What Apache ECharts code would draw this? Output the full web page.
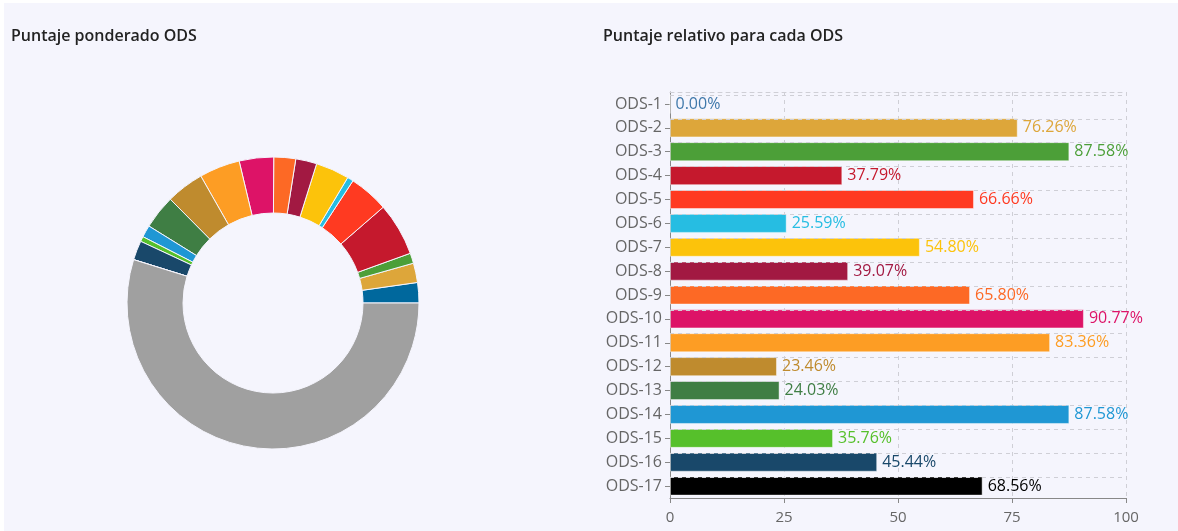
<!DOCTYPE html>
<html>
<head>
<meta charset="utf-8">
<script src="https://cdn.jsdelivr.net/npm/echarts@6/dist/echarts.min.js"></script>
<style>
  html, body { margin: 0; padding: 0; background: #ffffff; }
  #chart { position: absolute; left: 4px; top: 3px; width: 1174px; height: 528px; }
</style>
</head>
<body>
<div id="chart"></div>
<script>
// categories and colours
const categories = ["ODS-1", "ODS-2", "ODS-3", "ODS-4", "ODS-5", "ODS-6", "ODS-7", "ODS-8", "ODS-9",
    "ODS-10", "ODS-11", "ODS-12", "ODS-13", "ODS-14", "ODS-15", "ODS-16", "ODS-17"];
const colors = ["#00689D", "#DDA63A", "#4C9F38", "#C5192D", "#FF3A21", "#26BDE2", "#FCC30B", "#A21942",
    "#FD6925", "#DD1367", "#FD9D24", "#BF8B2E", "#3F7E44", "#1F97D4", "#56C02B", "#19486A", "#000000"];

// puntaje relativo (%)
const relativeScores = [0.00, 76.26, 87.58, 37.79, 66.66, 25.59, 54.80, 39.07, 65.80,
    90.77, 83.36, 23.46, 24.03, 87.58, 35.76, 45.44, 68.56];

// puntaje ponderado (% of the full circle)
const weightedScores = [2.25, 2.15, 1.13, 5.86, 4.39, 0.67, 3.72, 2.33, 2.42,
    3.81, 4.50, 4.19, 3.75, 1.33, 0.56, 2.14, 0];
const remainderLabel = "Restante";
const remainderColor = "#a0a0a0";

const xTicks = { min: 0, max: 100, interval: 25 };

function render_chart() {
    const chart = echarts.init(document.getElementById("chart"));
    const font = "'Open Sans', sans-serif";

    const used = weightedScores.reduce((a, b) => a + b, 0);
    const pieData = categories.map((c, i) => ({
        name: c, value: weightedScores[i], itemStyle: { color: colors[i] }
    }));
    pieData.push({ name: remainderLabel, value: Math.max(0, 100 - used), itemStyle: { color: remainderColor } });

    const barData = categories.map((c, i) => ({
        value: relativeScores[i],
        itemStyle: { color: colors[i] },
        label: { color: i === 0 ? "#3f78aa" : colors[i] }
    }));

    const gridLine = { color: "#cfcfd6", type: [4, 4], width: 1 };
    const titleStyle = { fontFamily: font, fontSize: 16, fontWeight: 600, color: "#222" };

    chart.setOption({
        backgroundColor: "#f5f5fd",
        animation: false,
        textStyle: { fontFamily: font },
        title: [
            { text: "Puntaje ponderado ODS", left: 7, top: 25, padding: 0, textStyle: titleStyle },
            { text: "Puntaje relativo para cada ODS", left: 599, top: 25, padding: 0, textStyle: titleStyle }
        ],
        grid: { left: 666, top: 89, width: 456, height: 406, containLabel: false },
        xAxis: [
            {
                type: "value", min: xTicks.min, max: xTicks.max, interval: xTicks.interval,
                axisLine: { show: true, lineStyle: { color: "#888" } },
                axisTick: { show: true, length: 5, lineStyle: { color: "#888" } },
                axisLabel: { color: "#666", fontSize: 15, margin: 12, fontFamily: font },
                splitLine: { show: true, lineStyle: gridLine }
            },
            {
                type: "value", position: "top", min: xTicks.min, max: xTicks.max,
                axisLine: { show: true, lineStyle: gridLine },
                axisTick: { show: false }, axisLabel: { show: false }, splitLine: { show: false }
            }
        ],
        yAxis: {
            type: "category", data: categories, inverse: true,
            axisLine: { show: true, lineStyle: { color: "#888" } },
            axisTick: { show: true, alignWithLabel: true, length: 5, lineStyle: { color: "#888" } },
            axisLabel: { color: "#666", fontSize: 16, margin: 8, fontFamily: font },
            splitLine: { show: false }
        },
        series: [
            {
                type: "pie",
                center: [269, 300],
                radius: [90, 146],
                startAngle: 0,
                clockwise: false,
                silent: true,
                label: { show: false },
                labelLine: { show: false },
                itemStyle: { borderColor: "#f5f5fd", borderWidth: 1 },
                data: pieData
            },
            {
                // horizontal dashed lines through each category
                type: "bar", data: [], z: 1, silent: true,
                markLine: {
                    silent: true, symbol: "none", label: { show: false },
                    lineStyle: gridLine,
                    data: categories.map((c) => ({ yAxis: c }))
                }
            },
            {
                type: "bar", z: 3,
                data: barData,
                barWidth: "80%",
                barGap: "-100%",
                itemStyle: { borderColor: "rgba(255,255,255,0.45)", borderWidth: 1 },
                label: {
                    show: true, position: "right", distance: 5,
                    fontSize: 16, fontFamily: font,
                    formatter: (p) => p.value.toFixed(2) + "%"
                }
            }
        ]
    });
}

window.addEventListener("load", render_chart);
</script>
</body>
</html>
